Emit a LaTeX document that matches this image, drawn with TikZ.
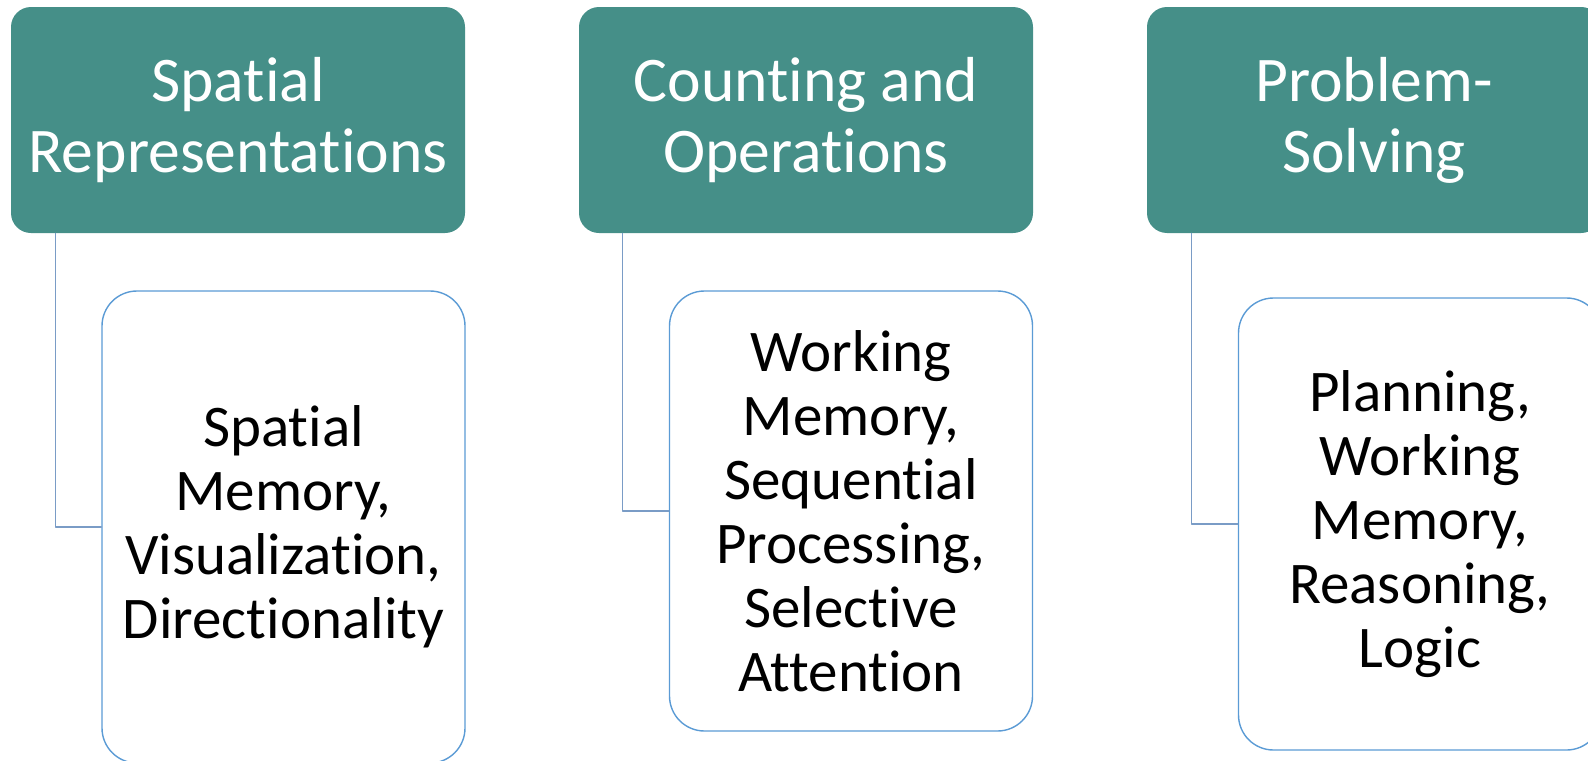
\documentclass[tikz,border=0pt]{standalone}
\usepackage{fontspec}
\setmainfont{Carlito}[Ligatures={NoCommon,NoRequired,NoContextual}]
\definecolor{headteal}{HTML}{458F88}
\definecolor{leafblue}{HTML}{5B9BD5}
\definecolor{linkblue}{HTML}{7A9CC6}
\begin{document}
\begin{tikzpicture}[x=0.5pt,y=-0.5pt,line join=round,line cap=round,
	head/.style={fill=headteal,draw=none,rounded corners=10pt,minimum width=227pt,minimum height=113pt,
		text=white,align=center,inner sep=0pt,font=\fontsize{31.8}{35.5}\selectfont},
	leaf/.style={fill=white,draw=leafblue,line width=0.7pt,rounded corners=17.5pt,minimum width=181.5pt,
		align=center,inner sep=0pt,font=\fontsize{29.5}{32}\selectfont},
	link/.style={draw=linkblue,line width=0.7pt}]
				\useasboundingbox(0,0)rectangle(1588,760);
				\path(238,120)node(h1)[head]{Spatial\\Representations}
				++(568,0)node(h2)[head]{Counting and\\Operations}
				++(568,0)node(h3)[head]{Problem-\\Solving}
				;
				\path
				(h1)++(45.5,407)node(c1)[leaf,minimum height=236pt]{Spatial\\Memory,\\Visualization,\\Directionality}
				(h2)++(45,391)node(c2)[leaf,minimum height=220pt]{Working\\Memory,\\Sequential\\Processing,\\Selective\\Attention}
				(h3)++(46,404)node(c3)[leaf,minimum height=226pt]{Planning,\\Working\\Memory,\\Reasoning,\\Logic}
				;
				\draw[link]([xshift=22.5pt]h1.south west)|-(c1.west);
				\draw[link]([xshift=22pt]h2.south west)|-(c2.west);
				\draw[link]([xshift=22.5pt]h3.south west)|-(c3.west);
		\end{tikzpicture}
\end{document}
